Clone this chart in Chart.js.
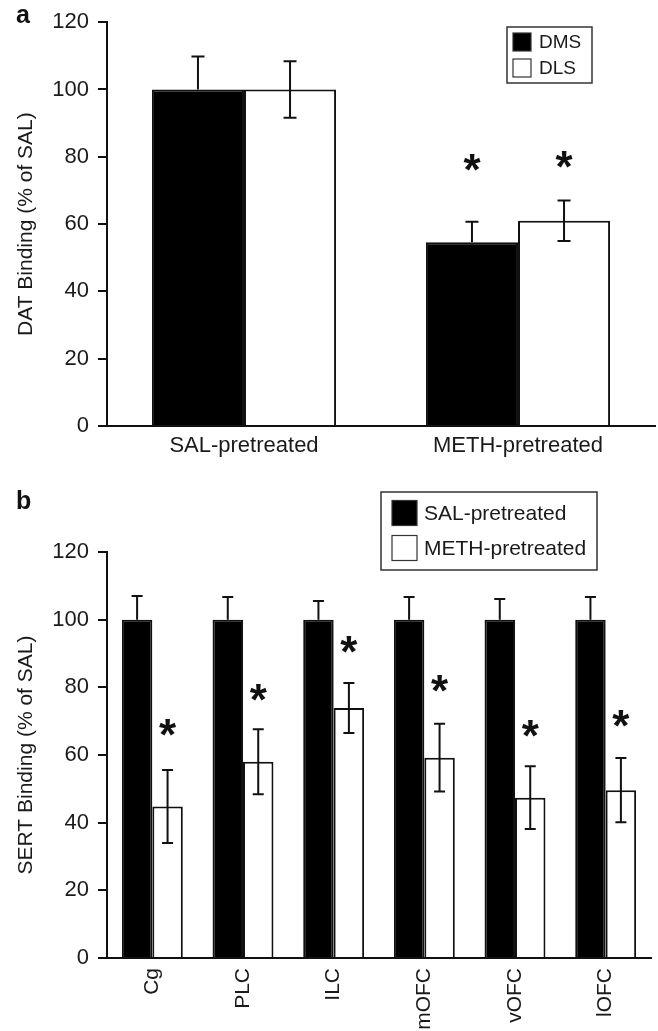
<!DOCTYPE html>
<html>
<head>
<meta charset="utf-8">
<script src="https://cdn.jsdelivr.net/npm/chart.js@4.4.1/dist/chart.umd.min.js"></script>
<style>
body { margin: 0; background: #fff; }
#wrap { position: relative; width: 658px; height: 1031px; }
#chartA { position: absolute; left: 0; top: 0; }
#chartB { position: absolute; left: 0; top: 490px; }
</style>
</head>
<body>
<div id="wrap">
<canvas id="chartA" width="658" height="480"></canvas>
<canvas id="chartB" width="658" height="541"></canvas>
</div>
<script>
// panel a: DAT binding
const groupsA = ['SAL-pretreated', 'METH-pretreated'];
const dmsMean = [100, 54.6];
const dmsErr = [9.8, 6.1];
const dlsMean = [100, 61.0];
const dlsErr = [8.4, 6.0];
const dmsStar = [null, 78.2];
const dlsStar = [null, 79.1];

// panel b: SERT binding
const regionsB = ['Cg', 'PLC', 'ILC', 'mOFC', 'vOFC', 'lOFC'];
const salMean = [100, 100, 100, 100, 100, 100];
const salErr = [7.0, 6.7, 5.5, 6.7, 6.1, 6.7];
const methMean = [44.8, 58.0, 73.9, 59.2, 47.4, 49.6];
const methErr = [10.8, 9.6, 7.4, 10.0, 9.3, 9.5];
const salStar = [null, null, null, null, null, null];
const methStar = [68.0, 78.6, 92.8, 81.0, 67.7, 70.9];

const yTicks = [0, 20, 40, 60, 80, 100, 120];

const FONT = '"Liberation Sans", Arial, Helvetica, sans-serif';
Chart.defaults.font.family = FONT;
Chart.defaults.color = '#1a1a1a';

// error bars, asterisks, boxed legend and panel letter
const extras = {
    id: 'extras',
    afterDatasetsDraw(chart, args, opts) {
        const ctx = chart.ctx;
        const y = chart.scales.y;
        ctx.save();
        ctx.strokeStyle = '#111';
        ctx.lineWidth = 2;
        chart.data.datasets.forEach((ds, di) => {
            const meta = chart.getDatasetMeta(di);
            const filled = ds.backgroundColor === '#000';
            meta.data.forEach((bar, i) => {
                const m = ds.data[i], e = ds.errors[i];
                const top = y.getPixelForValue(m + e);
                const bot = filled ? y.getPixelForValue(m) : y.getPixelForValue(m - e);
                const x = bar.x, w = opts.cap / 2;
                ctx.beginPath();
                ctx.moveTo(x, top); ctx.lineTo(x, bot);
                ctx.moveTo(x - w, top); ctx.lineTo(x + w, top);
                if (!filled) { ctx.moveTo(x - w, bot); ctx.lineTo(x + w, bot); }
                ctx.stroke();
                const s = ds.stars[i];
                if (s != null) {
                    ctx.fillStyle = '#111';
                    ctx.font = 'bold ' + opts.starSize + 'px ' + FONT;
                    ctx.textAlign = 'center';
                    ctx.textBaseline = 'alphabetic';
                    const mt = ctx.measureText('*');
                    const cy = y.getPixelForValue(s);
                    const base = cy + (mt.actualBoundingBoxAscent - mt.actualBoundingBoxDescent) / 2;
                    ctx.fillText('*', x, base);
                }
            });
        });
        ctx.restore();
    },
    afterDraw(chart, args, opts) {
        const ctx = chart.ctx;
        const lg = opts.legend;
        ctx.save();
        ctx.fillStyle = '#fff';
        ctx.fillRect(lg.x, lg.y, lg.w, lg.h);
        ctx.strokeStyle = '#333';
        ctx.lineWidth = 1.5;
        ctx.strokeRect(lg.x, lg.y, lg.w, lg.h);
        ctx.font = lg.fontSize + 'px ' + FONT;
        ctx.textBaseline = 'middle';
        ctx.textAlign = 'left';
        chart.data.datasets.forEach((ds, di) => {
            const cy = lg.rows[di];
            ctx.fillStyle = ds.backgroundColor;
            ctx.fillRect(lg.boxX, cy - lg.box / 2, lg.box, lg.box);
            ctx.strokeStyle = '#333';
            ctx.lineWidth = 1.2;
            ctx.strokeRect(lg.boxX, cy - lg.box / 2, lg.box, lg.box);
            ctx.fillStyle = '#1a1a1a';
            ctx.fillText(ds.label, lg.textX, cy + 1);
        });
        ctx.font = 'bold 25px ' + FONT;
        ctx.fillStyle = '#111';
        ctx.textBaseline = 'alphabetic';
        ctx.fillText(opts.letter.text, opts.letter.x, opts.letter.y);
        ctx.restore();
    }
};

function yScale(title, width) {
    return {
        min: 0,
        max: 120,
        afterBuildTicks: s => { s.ticks = yTicks.map(v => ({ value: v })); },
        afterFit: s => { s.width = width; },
        ticks: { font: { size: 22 }, padding: 9, color: '#1a1a1a' },
        grid: { drawOnChartArea: false, drawTicks: true, tickLength: 9, color: '#111', lineWidth: 2 },
        border: { display: true, color: '#111', width: 2 },
        title: { display: true, text: title, font: { size: 21 }, color: '#1a1a1a', padding: { top: 14, bottom: 0 } }
    };
}

new Chart(document.getElementById('chartA'), {
    type: 'bar',
    data: {
        labels: groupsA,
        datasets: [
            { label: 'DMS', data: dmsMean, errors: dmsErr, stars: dmsStar,
              backgroundColor: '#000', borderColor: '#111', borderWidth: 2 },
            { label: 'DLS', data: dlsMean, errors: dlsErr, stars: dlsStar,
              backgroundColor: '#fff', borderColor: '#111', borderWidth: 2 }
        ]
    },
    options: {
        responsive: false,
        animation: false,
        devicePixelRatio: 1,
        layout: { padding: { top: 15, right: 3, left: 0, bottom: 0 } },
        datasets: { bar: { barPercentage: 1, categoryPercentage: 0.672 } },
        scales: {
            x: {
                afterFit: s => { s.height = 54; },
                ticks: { font: { size: 22 }, padding: 7, color: '#1a1a1a', maxRotation: 0 },
                grid: { display: false, drawTicks: false },
                border: { display: true, color: '#111', width: 2 }
            },
            y: yScale('DAT Binding (% of SAL)', 107)
        },
        plugins: {
            legend: { display: false },
            tooltip: { enabled: false },
            extras: {
                cap: 13,
                starSize: 44,
                legend: { x: 507, y: 27, w: 85, h: 56, box: 18, boxX: 513, textX: 539, rows: [42, 68], fontSize: 19 },
                letter: { text: 'a', x: 16, y: 23 }
            }
        }
    },
    plugins: [extras]
});

new Chart(document.getElementById('chartB'), {
    type: 'bar',
    data: {
        labels: regionsB,
        datasets: [
            { label: 'SAL-pretreated', data: salMean, errors: salErr, stars: salStar,
              backgroundColor: '#000', borderColor: '#111', borderWidth: 2 },
            { label: 'METH-pretreated', data: methMean, errors: methErr, stars: methStar,
              backgroundColor: '#fff', borderColor: '#111', borderWidth: 2 }
        ]
    },
    options: {
        responsive: false,
        animation: false,
        devicePixelRatio: 1,
        layout: { padding: { top: 62, right: 7, left: 0, bottom: 0 } },
        datasets: { bar: { barPercentage: 1, categoryPercentage: 0.672 } },
        scales: {
            x: {
                afterFit: s => { s.height = 73; },
                ticks: { font: { size: 21 }, padding: 10, color: '#1a1a1a', minRotation: 90, maxRotation: 90, autoSkip: false },
                grid: { display: false, drawTicks: false },
                border: { display: true, color: '#111', width: 2 }
            },
            y: yScale('SERT Binding (% of SAL)', 107)
        },
        plugins: {
            legend: { display: false },
            tooltip: { enabled: false },
            extras: {
                cap: 11,
                starSize: 44,
                legend: { x: 381, y: 2, w: 216, h: 78, box: 25, boxX: 392, textX: 424, rows: [23, 58], fontSize: 21 },
                letter: { text: 'b', x: 16, y: 19 }
            }
        }
    },
    plugins: [extras]
});
</script>
</body>
</html>
